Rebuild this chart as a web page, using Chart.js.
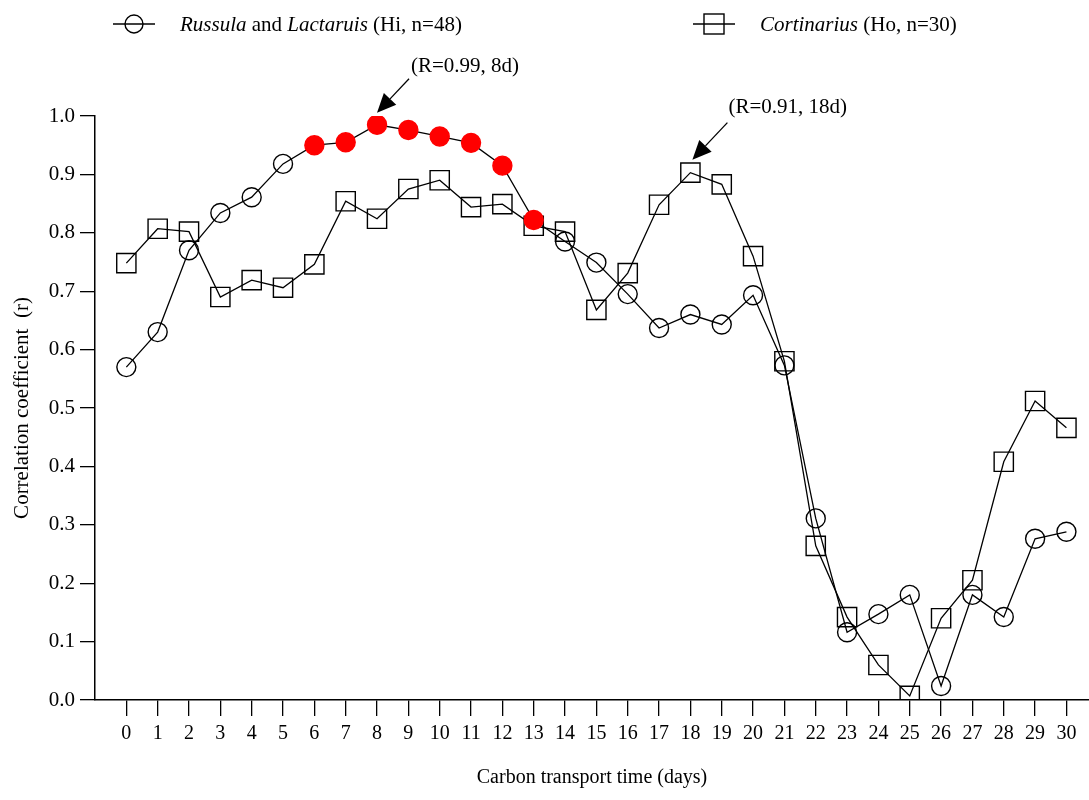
<!DOCTYPE html>
<html>
<head>
<meta charset="utf-8">
<script src="https://cdn.jsdelivr.net/npm/chart.js@4/dist/chart.umd.min.js"></script>
<style>
  html, body { margin: 0; padding: 0; background: #fff; overflow: hidden; }
  canvas { display: block; }
</style>
</head>
<body>
<canvas id="corrChart" width="1089" height="800"></canvas>
<script>
// == Data ==
const days = [0, 1, 2, 3, 4, 5, 6, 7, 8, 9, 10, 11, 12, 13, 14, 15, 16, 17, 18, 19, 20, 21, 22, 23, 24, 25, 26, 27, 28, 29, 30];
const russulaValues = [0.57, 0.63, 0.77, 0.834, 0.861, 0.918, 0.95, 0.955, 0.985, 0.976, 0.965, 0.954, 0.915, 0.822, 0.785, 0.749, 0.695, 0.637, 0.66, 0.643, 0.693, 0.573, 0.311, 0.116, 0.147, 0.18, 0.024, 0.18, 0.142, 0.276, 0.288];
const cortinariusValues = [0.748, 0.807, 0.802, 0.69, 0.719, 0.706, 0.746, 0.854, 0.824, 0.875, 0.89, 0.844, 0.849, 0.812, 0.802, 0.668, 0.731, 0.848, 0.903, 0.883, 0.76, 0.58, 0.264, 0.142, 0.06, 0.007, 0.14, 0.205, 0.408, 0.512, 0.466];
const highlightDays = [6, 7, 8, 9, 10, 11, 12, 13];
const yTicks = [0, 0.1, 0.2, 0.3, 0.4, 0.5, 0.6, 0.7, 0.8, 0.9, 1.0];
const noteDays = [8, 18];
const noteSeries = [0, 1];
const noteTexts = ['(R=0.99, 8d)', '(R=0.91, 18d)'];

// == Styles ==
const FONT = '"Liberation Serif", "Times New Roman", serif';
const INK = '#000';

function toPoints(values) {
    return days.map((d, i) => ({ x: d, y: values[i] }));
}

// == Plugins ==
const whiteBg = {
    id: 'whiteBg',
    beforeDraw(chart) {
        const ctx = chart.ctx;
        ctx.save();
        ctx.fillStyle = '#fff';
        ctx.fillRect(0, 0, chart.width, chart.height);
        ctx.restore();
    }
};

function drawRuns(ctx, runs, x, y) {
    runs.forEach(([text, italic]) => {
        ctx.font = `${italic ? 'italic ' : ''}21px ${FONT}`;
        ctx.fillText(text, x, y);
        x += ctx.measureText(text).width;
    });
}

const topLegend = {
    id: 'topLegend',
    afterDraw(chart) {
        const ctx = chart.ctx;
        ctx.save();
        ctx.strokeStyle = INK;
        ctx.fillStyle = INK;
        ctx.lineWidth = 1.4;
        // circle entry
        ctx.beginPath();
        ctx.moveTo(113, 24); ctx.lineTo(155, 24);
        ctx.stroke();
        ctx.beginPath();
        ctx.arc(134, 24, 9, 0, Math.PI * 2);
        ctx.stroke();
        // square entry
        ctx.beginPath();
        ctx.moveTo(693, 24); ctx.lineTo(735, 24);
        ctx.stroke();
        ctx.strokeRect(704, 14, 20, 20);

        ctx.textBaseline = 'middle';
        drawRuns(ctx, [['Russula', true], [' and ', false], ['Lactaruis', true], [' (Hi, n=48)', false]], 180, 25);
        drawRuns(ctx, [['Cortinarius', true], [' (Ho, n=30)', false]], 760, 25);
        ctx.restore();
    }
};

const arrowNotes = {
    id: 'arrowNotes',
    afterDatasetsDraw(chart) {
        const ctx = chart.ctx;
        const xs = chart.scales.x, ys = chart.scales.y;
        const tipOff = [[0, -12], [2, -13]];
        const tailOff = [[32, -46], [37, -50]];
        const textOff = [[34, -58], [38, -65]];
        ctx.save();
        ctx.strokeStyle = INK;
        ctx.fillStyle = INK;
        ctx.lineWidth = 1.3;
        noteDays.forEach((d, i) => {
            const vals = noteSeries[i] === 0 ? russulaValues : cortinariusValues;
            const px = xs.getPixelForValue(d);
            const py = ys.getPixelForValue(vals[days.indexOf(d)]);
            const tx = px + tipOff[i][0], ty = py + tipOff[i][1];
            const sx = px + tailOff[i][0], sy = py + tailOff[i][1];
            const ang = Math.atan2(ty - sy, tx - sx);
            const headLen = 19, headHalf = 8.5;
            const bx = tx - headLen * Math.cos(ang), by = ty - headLen * Math.sin(ang);
            ctx.beginPath();
            ctx.moveTo(sx, sy); ctx.lineTo(bx, by);
            ctx.stroke();
            ctx.beginPath();
            ctx.moveTo(tx, ty);
            ctx.lineTo(bx + headHalf * Math.sin(ang), by - headHalf * Math.cos(ang));
            ctx.lineTo(bx - headHalf * Math.sin(ang), by + headHalf * Math.cos(ang));
            ctx.closePath();
            ctx.fill();
            ctx.font = `21px ${FONT}`;
            ctx.textBaseline = 'middle';
            ctx.fillText(noteTexts[i], px + textOff[i][0], py + textOff[i][1]);
        });
        ctx.restore();
    }
};

// == Chart ==
new Chart(document.getElementById('corrChart'), {
    type: 'line',
    plugins: [whiteBg, topLegend, arrowNotes],
    data: {
        datasets: [{
            label: 'Russula and Lactaruis (Hi, n=48)',
            data: toPoints(russulaValues),
            borderColor: INK,
            borderWidth: 1.3,
            pointStyle: 'circle',
            pointRadius: 9.5,
            pointBorderWidth: 1.4,
            pointBorderColor: ctx => highlightDays.includes(ctx.raw && ctx.raw.x) ? '#ff0000' : INK,
            pointBackgroundColor: ctx => highlightDays.includes(ctx.raw && ctx.raw.x) ? '#ff0000' : 'rgba(0,0,0,0)',
            tension: 0
        }, {
            label: 'Cortinarius (Ho, n=30)',
            data: toPoints(cortinariusValues),
            borderColor: INK,
            borderWidth: 1.3,
            pointStyle: 'rect',
            pointRadius: 13.6,
            pointBorderWidth: 1.4,
            pointBorderColor: INK,
            pointBackgroundColor: 'rgba(0,0,0,0)',
            tension: 0
        }]
    },
    options: {
        responsive: false,
        animation: false,
        layout: { autoPadding: false, padding: { top: 116, left: 0, right: 0, bottom: 0 } },
        plugins: {
            legend: { display: false },
            tooltip: { enabled: false }
        },
        scales: {
            x: {
                type: 'linear',
                min: -1,
                max: 30.72,
                afterBuildTicks: scale => { scale.ticks = days.map(d => ({ value: d })); },
                afterFit: scale => { scale.height = 100; scale.paddingLeft = 0; scale.paddingRight = 0; },
                grid: { drawOnChartArea: false, drawTicks: true, tickLength: 16, color: INK, lineWidth: 1.3 },
                border: { display: true, color: INK, width: 1.5 },
                ticks: { color: INK, font: { family: FONT, size: 20 }, padding: 6, maxRotation: 0, autoSkip: false },
                title: { display: true, text: 'Carbon transport time (days)', color: INK, font: { family: FONT, size: 20 }, padding: { top: 0, bottom: 10 } }
            },
            y: {
                min: 0,
                max: 1,
                afterBuildTicks: scale => { scale.ticks = yTicks.map(v => ({ value: v })); },
                afterFit: scale => { scale.width = 95; scale.paddingTop = 0; scale.paddingBottom = 0; },
                grid: { drawOnChartArea: false, drawTicks: true, tickLength: 15, color: INK, lineWidth: 1.3 },
                border: { display: true, color: INK, width: 1.5 },
                ticks: { color: INK, font: { family: FONT, size: 21 }, padding: 5, callback: v => v.toFixed(1) },
                title: { display: true, text: 'Correlation coefficient  (r)', color: INK, font: { family: FONT, size: 21 }, padding: { top: 10, bottom: 0 } }
            }
        }
    }
});
</script>
</body>
</html>
